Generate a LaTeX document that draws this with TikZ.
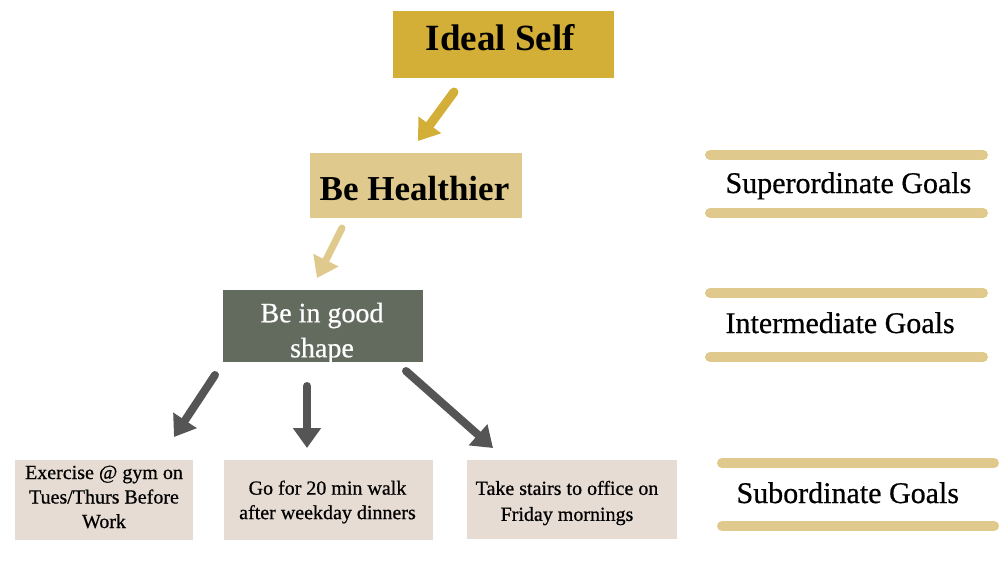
\documentclass[tikz,border=0pt]{standalone}
\usepackage{fontspec}
\setmainfont{Liberation Serif}
\newfontfamily\medfont[FakeBold=0.6]{Liberation Serif}
\usetikzlibrary{arrows.meta}
\definecolor{goldA}{HTML}{D4AF37}
\definecolor{goldB}{HTML}{E0C98C}
\definecolor{sage}{HTML}{636B5E}
\definecolor{beige}{HTML}{E6DCD3}
\definecolor{arrowgray}{HTML}{555555}
\tikzset{
  box/.style={rectangle, inner sep=0pt, draw=none},
  goalbar/.style={draw=goldB, line width=10pt, line cap=round},
  fatarrow/.style={line width=#1, line cap=round,
     -{Triangle[length=20pt,width=27pt]}},
  sidelabel/.style={anchor=base west, font=\medfont\fontsize{30}{36}\selectfont},
  smalltext/.style={align=center, inner sep=0pt, font=\medfont\fontsize{20}{24.5}\selectfont},
}
\begin{document}
\begin{tikzpicture}[x=1pt,y=-1pt]
\useasboundingbox (0,0) rectangle (1000,563);
\fill[white] (0,0) rectangle (1000,563);

% boxes
\node[box, fill=goldA, minimum width=221pt, minimum height=67pt] (ideal) at (503.5,44.5) {};
\node[anchor=base, inner sep=0pt, font=\fontsize{37}{44}\selectfont\bfseries] (idealtxt) at (500.5,50) {Ideal Self};

\node[box, fill=goldB, minimum width=212pt, minimum height=65pt] (health) at (416,185.5) {};
\node[anchor=base, inner sep=0pt, font=\fontsize{35}{42}\selectfont\bfseries] (healthtxt) at (414.5,200) {Be Healthier};

\node[box, fill=sage, minimum width=200pt, minimum height=72pt] (shape) at (323,326) {};
\node[align=center, inner sep=0pt, text=white, font=\medfont\fontsize{28}{35}\selectfont] (shapetxt) at (322,333) {Be in good\\shape};

\node[box, fill=beige, minimum width=178pt, minimum height=80pt] (gym) at (104,500) {};
\node[smalltext] (gymtxt) at (104,497) {Exercise @ gym on\\Tues/Thurs Before\\Work};

\node[box, fill=beige, minimum width=209pt, minimum height=80pt] (walk) at (328.5,500) {};
\node[smalltext] (walktxt) at (327.5,502) {Go for 20 min walk\\after weekday dinners};

\node[box, fill=beige, minimum width=210pt, minimum height=79pt] (stairs) at (572,499.5) {};
\node[smalltext, font=\medfont\fontsize{20}{26}\selectfont] (stairstxt) at (567,503) {Take stairs to office on\\Friday mornings};

% arrows
\coordinate (a1s) at (454,92);  \coordinate (a1e) at (418,141);
\coordinate (a2s) at (342,228); \coordinate (a2e) at (317,278);
\coordinate (a3s) at (215,375); \coordinate (a3e) at (174,437);
\coordinate (a4s) at (307,386); \coordinate (a4e) at (307,448);
\coordinate (a5s) at (406,371); \coordinate (a5e) at (493,448);
\draw[fatarrow=9pt, draw=goldA, fill=goldA] (a1s) -- (a1e);
\draw[fatarrow=7pt, draw=goldB, fill=goldB] (a2s) -- (a2e);
\draw[fatarrow=8pt, draw=arrowgray, fill=arrowgray] (a3s) -- (a3e);
\draw[fatarrow=8pt, draw=arrowgray, fill=arrowgray] (a4s) -- (a4e);
\draw[fatarrow=8pt, draw=arrowgray, fill=arrowgray] (a5s) -- (a5e);

% side bars
\coordinate (b1l) at (710,155); \coordinate (b1r) at (983,155);
\coordinate (b2l) at (710,213); \coordinate (b2r) at (983,213);
\coordinate (b3l) at (710,293); \coordinate (b3r) at (983,293);
\coordinate (b4l) at (710,357); \coordinate (b4r) at (983,357);
\coordinate (b5l) at (722,463); \coordinate (b5r) at (994,463);
\coordinate (b6l) at (722,526); \coordinate (b6r) at (994,526);
\draw[goalbar] (b1l) -- (b1r);
\draw[goalbar] (b2l) -- (b2r);
\draw[goalbar] (b3l) -- (b3r);
\draw[goalbar] (b4l) -- (b4r);
\draw[goalbar] (b5l) -- (b5r);
\draw[goalbar] (b6l) -- (b6r);

\node[sidelabel] (super) at (722,193) {Superordinate Goals};
\node[sidelabel] (inter) at (722,333) {Intermediate Goals};
\node[sidelabel] (sub) at (733,503) {Subordinate Goals};
\end{tikzpicture}
\end{document}
